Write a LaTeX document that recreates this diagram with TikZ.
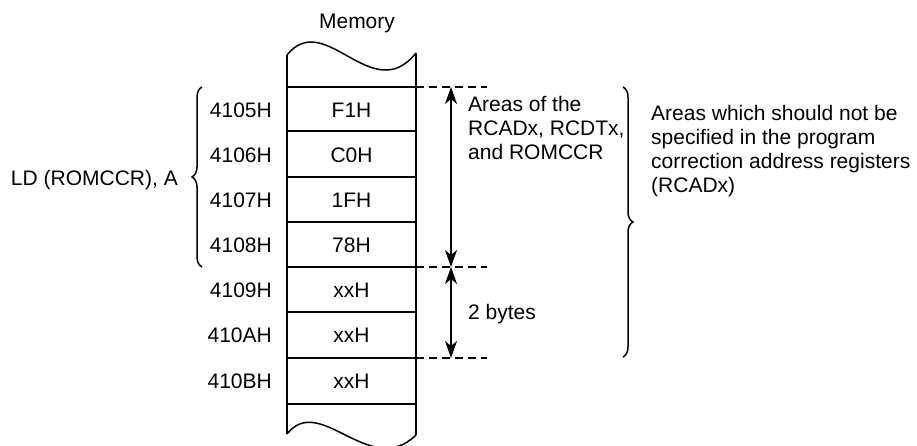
\documentclass[tikz,border=0pt]{standalone}
\usepackage{fontspec}
\setmainfont{Liberation Sans}
\usetikzlibrary{arrows.meta,decorations.pathreplacing}
\begin{document}
\begin{tikzpicture}[x=1pt,y=-1pt,
  txt/.style={inner sep=0pt, text height=15pt, text depth=0pt, font=\fontsize{21}{24.5}\selectfont},
  mtxt/.style={inner sep=0pt, align=left, anchor=base west, font=\fontsize{21}{24}\selectfont},
  memline/.style={line width=1.5pt},
  dimarrow/.style={line width=1.3pt, {Stealth[length=17pt,width=12pt,inset=5pt]}-{Stealth[length=17pt,width=12pt,inset=5pt]}},
  dline/.style={line width=1.2pt, dash pattern=on 8pt off 5pt},
  brc/.style={line width=1.5pt, decorate, decoration={brace, amplitude=10pt}}
]
\useasboundingbox (0,0) rectangle (917,446);
\clip (0,0) rectangle (917,446);

% memory column
\draw[memline] (287,55) .. controls (325,8) and (372,108) .. (416,53);
\draw[memline] (287,55) -- (287,434);
\draw[memline] (416,53) -- (416,435);
\draw[memline] (287,434) .. controls (320,392) and (370,480) .. (416,435);
\foreach \yy in {87,131,177,222,267,312,358,404}
  \draw[memline] (287,\yy) -- (416,\yy);

\node[txt] (mem) at (357,21) {Memory};

% addresses and values
\node[txt, anchor=east] (ad1) at (272,110) {4105H};
\node[txt, anchor=east] (ad2) at (272,155) {4106H};
\node[txt, anchor=east] (ad3) at (272,200) {4107H};
\node[txt, anchor=east] (ad4) at (272,245) {4108H};
\node[txt, anchor=east] (ad5) at (272,290) {4109H};
\node[txt, anchor=east] (ad6) at (272,335) {410AH};
\node[txt, anchor=east] (ad7) at (272,381) {410BH};

\node[txt] (v1) at (351.5,110) {F1H};
\node[txt] (v2) at (351.5,155) {C0H};
\node[txt] (v3) at (351.5,200) {1FH};
\node[txt] (v4) at (351.5,245) {78H};
\node[txt] (v5) at (351.5,290) {xxH};
\node[txt] (v6) at (351.5,335) {xxH};
\node[txt] (v7) at (351.5,381) {xxH};

% dashed guide lines
\coordinate (d1s) at (416,87);  \coordinate (d1e) at (487,87);
\coordinate (d2s) at (416,267); \coordinate (d2e) at (487,267);
\coordinate (d3s) at (416,358); \coordinate (d3e) at (487,358);
\draw[dline] (d1s) -- (d1e);
\draw[dline] (d2s) -- (d2e);
\draw[dline] (d3s) -- (d3e);

% dimension arrows
\coordinate (a1) at (451,87);
\coordinate (a2) at (451,267);
\coordinate (a3) at (451,358);
\draw[dimarrow] (a1) -- (a2);
\draw[dimarrow] (a2) -- (a3);

\node[mtxt] (areas) at (468,159.5) {Areas of the\\RCADx, RCDTx,\\and ROMCCR};
\node[txt, anchor=west] (bytes) at (468,312) {2 bytes};

% left brace
\coordinate (lb1) at (202,267);
\coordinate (lb2) at (202,87);
\draw[brc] (lb1) -- (lb2);
\node[txt, anchor=east] (ld) at (178,178) {LD (ROMCCR), A};

% right brace
\coordinate (rb1) at (623,87);
\coordinate (rb2) at (623,357);
\draw[brc] (rb1) -- (rb2);
\node[mtxt] (noarea) at (651,192.5) {Areas which should not be\\specified in the program\\correction address registers\\(RCADx)};
\end{tikzpicture}
\end{document}
